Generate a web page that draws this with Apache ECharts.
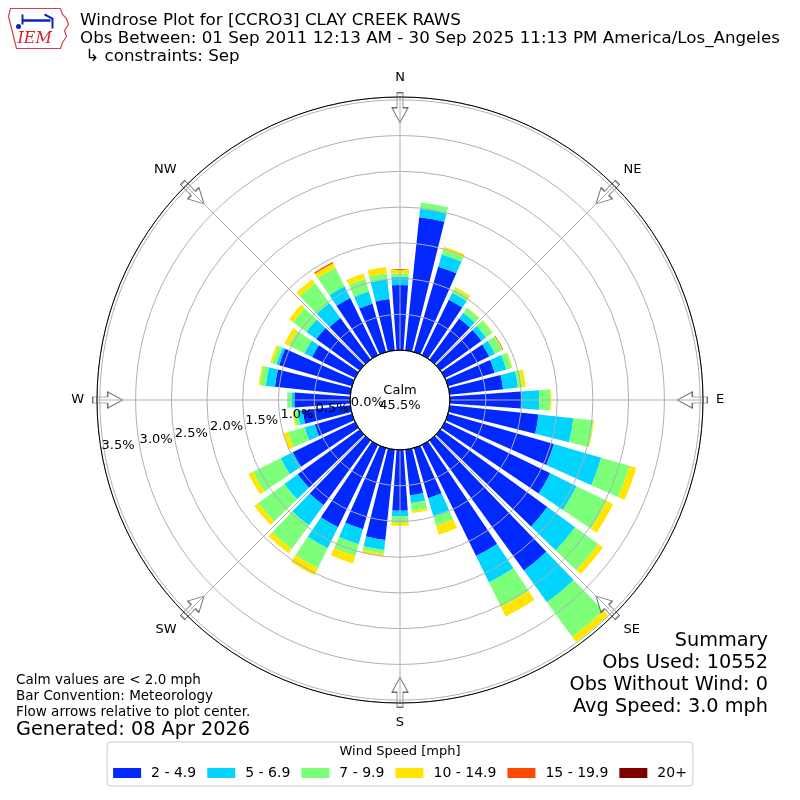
<!DOCTYPE html>
<html><head><meta charset="utf-8">
<script src="https://cdn.jsdelivr.net/npm/echarts@6/dist/echarts.min.js"></script>
<style>html,body{margin:0;padding:0;background:#fff}#c{width:800px;height:800px}</style>
</head><body><div id="c"></div>
<script>
// Direction categories (degrees, meteorological)
const directions = ['0','10','20','30','40','50','60','70','80','90','100','110','120','130','140','150','160','170',
  '180','190','200','210','220','230','240','250','260','270','280','290','300','310','320','330','340','350'];
const binNames = ['2 - 4.9','5 - 6.9','7 - 9.9','10 - 14.9','15 - 19.9','20+'];
const binColors = ['#0028ff','#00d4ff','#7dff7a','#ffe500','#ff4800','#800000'];
// frequency (%) per direction for each speed bin
const bin2to5 = [0.91,1.87,1.24,0.86,0.71,0.71,0.69,0.68,0.75,1.00,1.25,1.54,1.64,1.85,2.25,1.73,0.73,0.64,
  0.85,1.27,1.18,1.28,1.12,1.07,0.97,0.54,0.67,0.78,1.06,1.06,0.67,0.75,0.72,0.89,0.70,0.72];
const bin5to7 = [0.12,0.12,0.18,0.11,0.10,0.08,0.09,0.17,0.21,0.25,0.49,0.69,0.41,0.48,0.55,0.41,0.26,0.11,
  0.08,0.14,0.22,0.33,0.35,0.23,0.19,0.15,0.07,0.04,0.13,0.04,0.12,0.17,0.26,0.18,0.18,0.28];
const bin7to10 = [0.04,0.09,0.07,0.06,0.08,0.11,0.11,0.08,0.06,0.15,0.28,0.41,0.47,0.40,0.60,0.38,0.14,0.11,
  0.09,0.05,0.17,0.31,0.41,0.45,0.43,0.24,0.05,0.06,0.08,0.06,0.24,0.23,0.34,0.29,0.18,0.08];
const bin10to15 = [0.06,0.00,0.04,0.03,0.01,0.01,0.01,0.01,0.05,0.02,0.01,0.10,0.10,0.08,0.09,0.15,0.13,0.03,
  0.04,0.04,0.11,0.11,0.07,0.07,0.07,0.07,0.02,0.00,0.02,0.03,0.07,0.07,0.07,0.07,0.08,0.09];
const bin15to20 = [0,0,0,0,0,0,0.01,0,0,0,0,0,0,0,0,0,0,0,
  0,0,0,0,0,0,0,0,0,0,0,0,0,0,0,0.02,0,0];
const bin20plus = [0,0,0,0,0,0,0,0,0,0,0,0,0,0,0,0,0,0,
  0,0,0,0,0,0,0,0,0,0,0,0,0,0,0,0,0,0];
const binData = [bin2to5, bin5to7, bin7to10, bin10to15, bin15to20, bin20plus];
// radial ticks
const radiusMax = 3.54;
const radiusStep = 0.5;
// compass labels / flow arrows
const compassAngles = [0,45,90,135,180,225,270,315];
const compassNames = ['N','NE','E','SE','S','SW','W','NW'];
const arrowRadius = 3.39;
const calmPct = '45.5%';

const FONT = 'DejaVu Sans';
const chart = echarts.init(document.getElementById('c'), null, {renderer:'canvas'});
const C = [400, 400];
const R = [50, 303];

const arrowPath = 'path://M-3,0 L3,0 L3,15 L8,15 L0,30 L-8,15 L-3,15 Z';

const series = binData.map((d, i) => ({
  type: 'bar', name: binNames[i], coordinateSystem: 'polar', polarIndex: 0,
  stack: 'w', data: d, barCategoryGap: '20%',
  itemStyle: {color: binColors[i]}, z: 2
}));
series.push({
  type: 'scatter', coordinateSystem: 'polar', polarIndex: 1, silent: true,
  symbol: arrowPath, symbolSize: [16, 30],
  symbolRotate: (v) => -v[1],
  itemStyle: {color: '#fff', borderColor: '#444', borderWidth: 1},
  data: compassAngles.map(a => [arrowRadius, a]), z: 3
});

const option = {
  animation: false,
  textStyle: {fontFamily: FONT},
  polar: [
    {center: C, radius: R},
    {center: C, radius: R},
    {center: C, radius: R},
    {center: C, radius: R[0]}
  ],
  angleAxis: [
    {polarIndex: 0, type: 'category', data: directions, startAngle: 95, clockwise: true,
      axisLine: {show: false}, axisTick: {show: false}, axisLabel: {show: false}, splitLine: {show: false}},
    {polarIndex: 1, type: 'value', min: 0, max: 360, interval: 45, startAngle: 90, clockwise: true, z: 10,
      axisLine: {show: true, lineStyle: {color: '#000', width: 1}}, axisTick: {show: false},
      axisLabel: {show: true, margin: 13, fontSize: 13, color: '#000', fontFamily: FONT,
        formatter: v => { const i = compassAngles.indexOf(v); return (i >= 0 && v !== 360) ? compassNames[i] : ''; }},
      splitLine: {show: true, lineStyle: {color: '#b0b0b0', width: 1}}},
    {polarIndex: 2, type: 'value', min: 0, max: 360, startAngle: 190, clockwise: true,
      axisLine: {show: false}, axisTick: {show: false}, axisLabel: {show: false}, splitLine: {show: false}},
    {polarIndex: 3, type: 'value', min: 0, max: 360, z: 11,
      axisLine: {show: true, lineStyle: {color: '#000', width: 1}}, axisTick: {show: false}, axisLabel: {show: false}, splitLine: {show: false}}
  ],
  radiusAxis: [
    {polarIndex: 0, type: 'value', min: 0, max: radiusMax,
      axisLine: {show: false}, axisTick: {show: false}, axisLabel: {show: false}, splitLine: {show: false}},
    {polarIndex: 1, type: 'value', min: 0, max: radiusMax, interval: radiusStep, z: 10,
      axisLine: {show: false}, axisTick: {show: false}, axisLabel: {show: false},
      splitLine: {show: true, lineStyle: {color: '#b0b0b0', width: 1}}},
    {polarIndex: 2, type: 'value', min: 0, max: radiusMax, interval: radiusStep, z: 12,
      axisLine: {show: false}, axisTick: {show: false}, splitLine: {show: false},
      axisLabel: {show: true, margin: 0, fontSize: 13, color: '#000', fontFamily: FONT,
        align: 'left', verticalAlign: 'bottom', rotate: 0, showMaxLabel: true,
        formatter: v => v.toFixed(1) + '%'}},
    {polarIndex: 3, type: 'value', min: 0, max: 1,
      axisLine: {show: false}, axisTick: {show: false}, axisLabel: {show: false}, splitLine: {show: false}}
  ],
  legend: {
    data: binNames, left: 'center', top: 742, orient: 'horizontal',
    itemWidth: 28, itemHeight: 10, itemGap: 11, icon: 'rect',
    padding: [24, 6, 6, 6], borderColor: '#cccccc', borderWidth: 1, borderRadius: 4,
    textStyle: {fontSize: 14, color: '#000', fontFamily: FONT, padding: [0, 0, 0, 5]}
  },
  graphic: [
    {type: 'text', left: 80, top: 12, style: {text: 'Windrose Plot for [CCRO3] CLAY CREEK RAWS', font: '16.7px "DejaVu Sans"', fill: '#000'}},
    {type: 'text', left: 80, top: 30, style: {text: 'Obs Between: 01 Sep 2011 12:13 AM - 30 Sep 2025 11:13 PM America/Los_Angeles', font: '16.7px "DejaVu Sans"', fill: '#000'}},
    {type: 'text', left: 80, top: 48, style: {text: ' \u21b3 constraints: Sep', font: '16.7px "DejaVu Sans"', fill: '#000'}},
    {type: 'text', x: 400, y: 398, style: {text: 'Calm\n' + calmPct, font: '13px "DejaVu Sans"', fill: '#000', align: 'center', verticalAlign: 'middle', lineHeight: 15}, z: 20},
    {type: 'text', left: 16, top: 673, style: {text: 'Calm values are < 2.0 mph', font: '13.5px "DejaVu Sans"', fill: '#000'}},
    {type: 'text', left: 16, top: 689, style: {text: 'Bar Convention: Meteorology', font: '13.5px "DejaVu Sans"', fill: '#000'}},
    {type: 'text', left: 16, top: 705, style: {text: 'Flow arrows relative to plot center.', font: '13.5px "DejaVu Sans"', fill: '#000'}},
    {type: 'text', left: 16, top: 720, style: {text: 'Generated: 08 Apr 2026', font: '19.3px "DejaVu Sans"', fill: '#000'}},
    {type: 'text', right: 32, top: 631, style: {text: 'Summary', font: '19.3px "DejaVu Sans"', fill: '#000', align: 'right'}},
    {type: 'text', right: 32, top: 653, style: {text: 'Obs Used: 10552', font: '19.3px "DejaVu Sans"', fill: '#000', align: 'right'}},
    {type: 'text', right: 32, top: 675, style: {text: 'Obs Without Wind: 0', font: '19.3px "DejaVu Sans"', fill: '#000', align: 'right'}},
    {type: 'text', right: 32, top: 697, style: {text: 'Avg Speed: 3.0 mph', font: '19.3px "DejaVu Sans"', fill: '#000', align: 'right'}},
    {type: 'text', x: 400, y: 752, style: {text: 'Wind Speed [mph]', font: '13px "DejaVu Sans"', fill: '#000', align: 'center', verticalAlign: 'middle'}, z: 20},
    // IEM logo (approximate)
    {type: 'group', left: 6, top: 6, children: [
      {type: 'polyline', shape: {points: [[2,2],[52,2],[54,8],[58,12],[60,18],[56,24],[58,30],[54,36],[52,42],[8,42],[6,34],[4,26],[2,18],[0,10],[2,2]]},
        style: {stroke: '#d04050', lineWidth: 1.2, fill: 'none'}},
      {type: 'polyline', shape: {points: [[14,14],[42,14]]}, style: {stroke: '#1020c0', lineWidth: 2.5}},
      {type: 'polyline', shape: {points: [[14,8],[14,18]]}, style: {stroke: '#1020c0', lineWidth: 2}},
      {type: 'polyline', shape: {points: [[36,8],[44,12],[44,22]]}, style: {stroke: '#1020c0', lineWidth: 2}},
      {type: 'circle', shape: {cx: 10, cy: 20, r: 2.5}, style: {fill: '#1020c0'}},
      {type: 'text', x: 9, y: 24, style: {text: 'IEM', font: 'italic 16px "DejaVu Serif"', fill: '#d02030'}}
    ]}
  ],
  series
};
chart.setOption(option);
</script></body></html>
